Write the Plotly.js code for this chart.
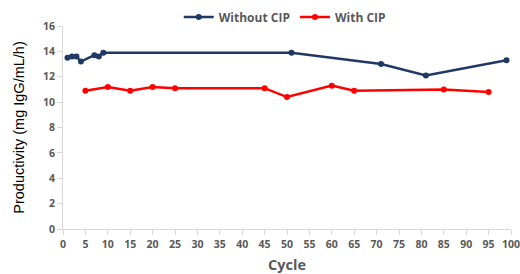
<!DOCTYPE html>
<html><head><meta charset="utf-8">
<script src="https://cdn.plot.ly/plotly-3.0.1.min.js"></script>
<style>html,body{margin:0;padding:0;background:#fff}#chart{width:520px;height:274px}</style>
</head><body><div id="chart"></div>
<script>
const cyclesWithout = [1, 2, 3, 4, 7, 8, 9, 51, 71, 81, 99];
const prodWithout   = [13.5, 13.6, 13.6, 13.2, 13.7, 13.6, 13.9, 13.9, 13.0, 12.1, 13.3];
const cyclesWith = [5, 10, 15, 20, 25, 45, 50, 60, 65, 85, 95];
const prodWith   = [10.9, 11.2, 10.9, 11.2, 11.1, 11.1, 10.4, 11.3, 10.9, 11.0, 10.8];
const xTicks = [0,5,10,15,20,25,30,35,40,45,50,55,60,65,70,75,80,85,90,95,100];
const yTicks = [0,2,4,6,8,10,12,14,16];

const tickFont = {family: 'Open Sans, Liberation Sans, sans-serif', size: 10.5, color: '#595959', weight: 'bold'};
const traces = [
  {x: cyclesWithout, y: prodWithout, name: 'Without CIP', mode: 'lines+markers',
   line: {color: '#203864', width: 2.5}, marker: {color: '#203864', size: 6}},
  {x: cyclesWith, y: prodWith, name: 'With CIP', mode: 'lines+markers',
   line: {color: '#FF0000', width: 2.5}, marker: {color: '#FF0000', size: 6}}
];
const layout = {
  width: 520, height: 274,
  margin: {l: 63, r: 9, t: 26, b: 45, autoexpand: false},
  paper_bgcolor: '#fff', plot_bgcolor: '#fff',
  showlegend: true,
  legend: {orientation: 'h', x: 0.495, xanchor: 'center', xref: 'paper',
           y: 0.938, yanchor: 'middle', yref: 'container',
           font: {family: 'Open Sans, Liberation Sans, sans-serif', size: 12, color: '#595959', weight: 'bold'},
           itemwidth: 30, tracegroupgap: 0, bgcolor: 'rgba(0,0,0,0)'},
  xaxis: {range: [0, 100], tickvals: xTicks, ticktext: xTicks.map(String), showgrid: false, zeroline: false,
          showline: true, linecolor: '#d9d9d9', linewidth: 1, ticks: 'outside', ticklen: 5, tickcolor: '#d9d9d9',
          tickfont: tickFont, ticklabeloverflow: 'allow', automargin: false,
          title: {text: 'Cycle', font: {family: 'Open Sans, Liberation Sans, sans-serif', size: 14.5, color: '#595959', weight: 'bold'}, standoff: 10}},
  yaxis: {range: [0, 16], tickvals: yTicks, ticktext: yTicks.map(String), showgrid: false, zeroline: false,
          showline: true, linecolor: '#d9d9d9', linewidth: 1, ticks: 'outside', ticklen: 5, tickcolor: '#d9d9d9',
          tickfont: tickFont, automargin: false,
          title: {text: 'Productivity (mg IgG/mL/h)', font: {family: 'Liberation Sans, Arial, sans-serif', size: 14.5, color: '#000'}, standoff: 14}}
};
Plotly.newPlot('chart', traces, layout, {displayModeBar: false, staticPlot: true});
</script></body></html>
